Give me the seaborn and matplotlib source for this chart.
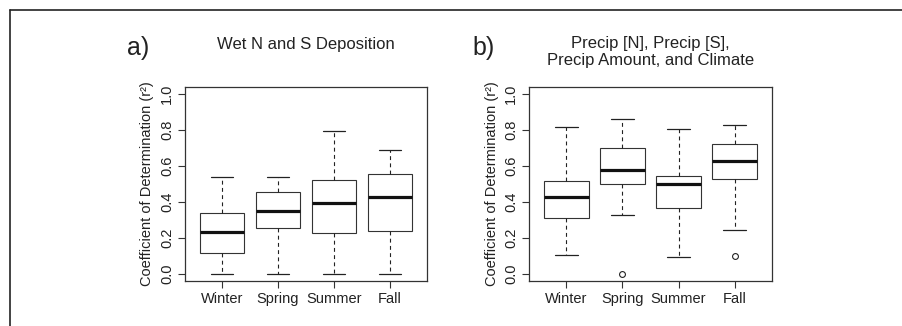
import matplotlib
matplotlib.use("Agg")
import matplotlib.pyplot as plt
from matplotlib.lines import Line2D
import seaborn as sns
import pandas as pd

seasons = ["Winter", "Spring", "Summer", "Fall"]

# panel a: Wet N and S Deposition (five-number summaries)
a_low = [0.0, 0.0, 0.0, 0.0]
a_q1 = [0.118, 0.253, 0.229, 0.240]
a_med = [0.234, 0.350, 0.393, 0.428]
a_q3 = [0.340, 0.458, 0.522, 0.557]
a_high = [0.540, 0.537, 0.795, 0.688]
a_out = [None, None, None, None]

# panel b: Precip [N], Precip [S], Precip Amount, and Climate
b_low = [0.103, 0.325, 0.096, 0.242]
b_q1 = [0.310, 0.498, 0.364, 0.530]
b_med = [0.426, 0.576, 0.498, 0.627]
b_q3 = [0.516, 0.701, 0.546, 0.725]
b_high = [0.819, 0.860, 0.808, 0.828]
b_out = [None, 0.0, None, 0.100]

yticks = [0.0, 0.2, 0.4, 0.6, 0.8, 1.0]
ytick_labels = ["0.0", "0.2", "0.4", "0.6", "0.8", "1.0"]


def build_frame(low, q1, med, q3, high, out):
    # nine values per season whose quartiles equal the read summary values
    rows = []
    for i, s in enumerate(seasons):
        first = out[i] if out[i] is not None else low[i]
        vals = [first, low[i], q1[i], q1[i], med[i], q3[i], q3[i], high[i], high[i]]
        for v in vals:
            rows.append({"season": s, "r2": v})
    return pd.DataFrame(rows)


df_a = build_frame(a_low, a_q1, a_med, a_q3, a_high, a_out)
df_b = build_frame(b_low, b_q1, b_med, b_q3, b_high, b_out)

sns.set_theme(style="ticks")
plt.rcParams["font.family"] = ["Liberation Sans", "DejaVu Sans"]

EDGE = "#333333"
fig = plt.figure(figsize=(9.02, 3.26), dpi=100)

W, H = 902.0, 326.0


def make_axes(left_px, right_px, top_px=87.0, bottom_px=281.0):
    return fig.add_axes([left_px / W, 1 - bottom_px / H,
                         (right_px - left_px) / W, (bottom_px - top_px) / H])


ax_a = make_axes(185.0, 427.0)
ax_b = make_axes(529.3, 771.7)

for ax, df in [(ax_a, df_a), (ax_b, df_b)]:
    sns.boxplot(data=df, x="season", y="r2", order=seasons, ax=ax,
                color="white", linecolor=EDGE, linewidth=0.8, width=0.8,
                whis=1.5, fill=True,
                medianprops=dict(color="#111111", linewidth=2.3),
                whiskerprops=dict(linestyle=(0, (3.5, 3)), linewidth=0.8, color="#222222"),
                capprops=dict(linewidth=0.9, color="#222222"),
                flierprops=dict(marker="o", markerfacecolor="none",
                                markeredgecolor="#222222", markersize=4.2,
                                markeredgewidth=0.8))
    ax.set_xlim(-0.66, 3.66)
    ax.set_ylim(-0.04, 1.04)
    ax.set_yticks(yticks)
    ax.set_yticklabels(ytick_labels, rotation=90, va="center")
    ax.set_xlabel("")
    ax.set_ylabel("Coefficient of Determination (r²)", fontsize=10.5,
                  color="#222222", labelpad=4)
    for sp in ax.spines.values():
        sp.set_visible(True)
        sp.set_color(EDGE)
        sp.set_linewidth(0.9)
    ax.tick_params(axis="both", direction="out", length=5, width=0.8,
                   color=EDGE, labelsize=10.5, labelcolor="#222222", pad=3)
    ax.set_facecolor("white")

ax_a.set_title("Wet N and S Deposition", fontsize=12, color="#222222", pad=27)
ax_b.set_title("Precip [N], Precip [S],\nPrecip Amount, and Climate",
               fontsize=12, color="#222222", pad=16, linespacing=1.15)

fig.text(138 / W, 1 - 48 / H, "a)", fontsize=18, color="#222222",
         ha="center", va="center")
fig.text(484 / W, 1 - 48 / H, "b)", fontsize=18, color="#222222",
         ha="center", va="center")

# partial frame of the original figure (top and left borders)
fig.add_artist(Line2D([10 / W, 1.0], [1 - 10 / H, 1 - 10 / H],
                      color="#222222", linewidth=1.2))
fig.add_artist(Line2D([10 / W, 10 / W], [0.0, 1 - 10 / H],
                      color="#222222", linewidth=1.2))

fig.savefig("out.png", dpi=100, facecolor="white")
